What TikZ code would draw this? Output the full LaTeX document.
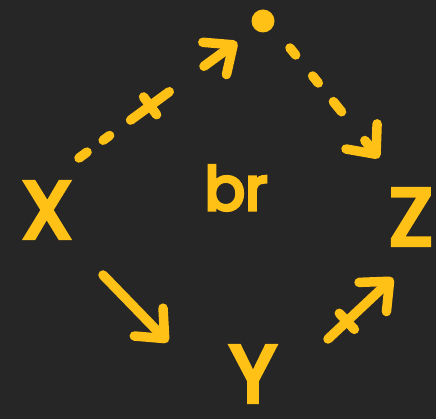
\documentclass[tikz,border=0pt]{standalone}
\usepackage{fontspec}
\newfontfamily\hand{Poppins}[FakeBold=5.5]
\usetikzlibrary{arrows.meta,decorations.markings}
\definecolor{bg}{RGB}{38,38,38}
\definecolor{ink}{RGB}{255,193,21}
\begin{document}
\begin{tikzpicture}[x=1pt,y=-1pt,
  pen/.style={draw=ink,line width=9.5pt,line cap=round,line join=round},
  barb/.style={-{Straight Barb[length=23pt,width=40pt,round]}},
  lbl/.style={text=ink,inner sep=0pt,font=\hand\fontsize{80}{82}\selectfont},
  crossbar/.style={postaction={decorate,decoration={markings,mark=at position #1 with {\draw[-,ink,line width=9.5pt,line cap=round,solid] (0,-11pt) -- (0,11pt);}}}},
]
\fill[bg] (0,0) rectangle (436,419);
\useasboundingbox (0,0) rectangle (436,419);
\node[lbl] (X) at (47,210) {X};
\node[lbl] (Y) at (253,374) {Y};
\node[lbl] (Z) at (411,217) {Z};
\node[lbl,font=\hand\fontsize{60}{62}\selectfont] (br) at (236,188) {br};
\node[fill=ink,circle,minimum size=23pt,inner sep=0pt] (dot) at (263,21) {};
\coordinate (xd1) at (79,158); \coordinate (xd2) at (237,42);
\coordinate (dz1) at (290,48); \coordinate (dz2) at (379,158);
\coordinate (xy1) at (103,275); \coordinate (xy2) at (168,342);
\coordinate (yz1) at (328,339); \coordinate (yz2) at (393,278);
\draw[pen,barb,dash pattern=on 10pt off 20pt on 8pt off 26pt on 48pt off 43pt on 200pt,crossbar=0.45] (xd1) -- (xd2);
\draw[pen,barb,dash pattern=on 9pt off 27pt on 9pt off 24pt on 13pt off 37pt on 200pt] (dz1) -- (dz2);
\draw[pen,barb] (xy1) -- (xy2);
\draw[pen,barb,crossbar=0.29] (yz1) -- (yz2);
\end{tikzpicture}
\end{document}
